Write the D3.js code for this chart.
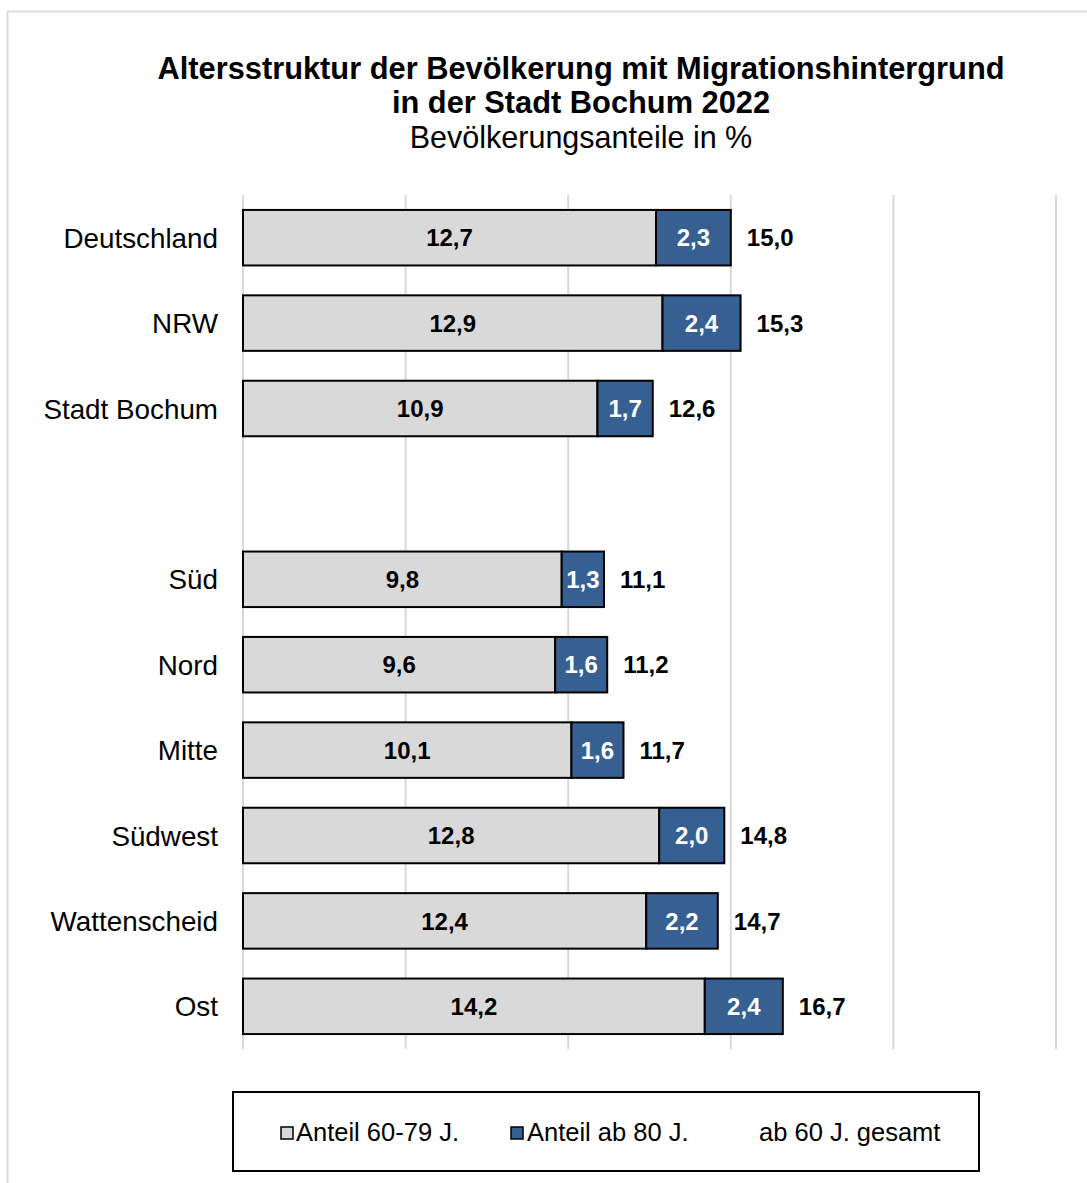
<!DOCTYPE html>
<html>
<head>
<meta charset="utf-8">
<script src="https://cdn.jsdelivr.net/npm/d3@7"></script>
<style>
  html, body { margin: 0; padding: 0; background: #fff; }
  svg { display: block; font-family: "Liberation Sans", Arial, sans-serif; }
</style>
</head>
<body>
<svg id="chart" width="1087" height="1183"></svg>
<script>
// ---- Data ----
const categories = ["Deutschland", "NRW", "Stadt Bochum", "", "Süd", "Nord", "Mitte", "Südwest", "Wattenscheid", "Ost"];
const anteil6079 = [12.7, 12.9, 10.9, null, 9.8, 9.6, 10.1, 12.8, 12.4, 14.2];
const anteilAb80 = [2.3, 2.4, 1.7, null, 1.3, 1.6, 1.6, 2.0, 2.2, 2.4];
const gesamt     = [15.0, 15.3, 12.6, null, 11.1, 11.2, 11.7, 14.8, 14.7, 16.7];
const xTicks = [0, 5, 10, 15, 20, 25];
const seriesNames = ["Anteil 60-79 J.", "Anteil ab 80 J.", "ab 60 J. gesamt"];
const titleLines = ["Altersstruktur der Bevölkerung mit Migrationshintergrund", "in der Stadt Bochum 2022"];
const subtitle = "Bevölkerungsanteile in %";

const fmt = v => v.toFixed(1).replace(".", ",");

const svg = d3.select("#chart");
const grey = "#d9d9d9", blue = "#376092";

// outer frame
svg.append("rect").attr("x", 7.5).attr("y", 11.5).attr("width", 1100).attr("height", 1200)
  .attr("fill", "none").attr("stroke", "#dcdcdc").attr("stroke-width", 2);

// titles
const cx = 581;
svg.append("text").attr("x", cx).attr("y", 79).attr("text-anchor", "middle")
  .attr("font-size", 30.8).attr("font-weight", "bold").text(titleLines[0]);
svg.append("text").attr("x", cx).attr("y", 113).attr("text-anchor", "middle")
  .attr("font-size", 30.8).attr("font-weight", "bold").text(titleLines[1]);
svg.append("text").attr("x", cx).attr("y", 148).attr("text-anchor", "middle")
  .attr("font-size", 30.5).text(subtitle);

// scales
const x = d3.scaleLinear().domain([0, 25]).range([243, 1056]);
const y = d3.scaleBand().domain(categories.map((c, i) => i)).range([195, 1049])
  .paddingInner(0.35).paddingOuter(0.175);

// gridlines
svg.append("g").selectAll("line").data(xTicks).join("line")
  .attr("x1", d => x(d)).attr("x2", d => x(d))
  .attr("y1", 195).attr("y2", 1049)
  .attr("stroke", "#d9d9d9").attr("stroke-width", 2);

// category axis labels
const yAxis = d3.axisLeft(y).tickSize(0).tickPadding(0).tickFormat(i => categories[i]);
const ga = svg.append("g").attr("transform", "translate(218,0)").call(yAxis);
ga.select(".domain").remove();
ga.selectAll("text").attr("font-size", 27.8).attr("font-family", "Liberation Sans, Arial, sans-serif")
  .attr("fill", "#000").attr("dy", "0.36em");

const rows = categories.map((c, i) => ({ i, a: anteil6079[i], b: anteilAb80[i], t: gesamt[i] }))
  .filter(d => d.a !== null);

const bars = svg.append("g");
// grey segment
bars.selectAll("rect.a").data(rows).join("rect").attr("class", "a")
  .attr("x", x(0)).attr("y", d => y(d.i))
  .attr("width", d => x(d.a) - x(0)).attr("height", y.bandwidth())
  .attr("fill", grey).attr("stroke", "#000").attr("stroke-width", 2);
// blue segment
bars.selectAll("rect.b").data(rows).join("rect").attr("class", "b")
  .attr("x", d => x(d.a)).attr("y", d => y(d.i))
  .attr("width", d => x(d.a + d.b) - x(d.a)).attr("height", y.bandwidth())
  .attr("fill", blue).attr("stroke", "#000").attr("stroke-width", 2);

const lab = svg.append("g").attr("font-weight", "bold").attr("font-size", 24);
lab.selectAll("text.a").data(rows).join("text").attr("class", "a")
  .attr("x", d => (x(0) + x(d.a)) / 2).attr("y", d => y(d.i) + y.bandwidth() / 2)
  .attr("dy", "0.36em").attr("text-anchor", "middle").attr("fill", "#000")
  .text(d => fmt(d.a));
lab.selectAll("text.b").data(rows).join("text").attr("class", "b")
  .attr("x", d => (x(d.a) + x(d.a + d.b)) / 2).attr("y", d => y(d.i) + y.bandwidth() / 2)
  .attr("dy", "0.36em").attr("text-anchor", "middle").attr("fill", "#fff")
  .text(d => fmt(d.b));
lab.selectAll("text.t").data(rows).join("text").attr("class", "t")
  .attr("x", d => x(d.a + d.b) + 16).attr("y", d => y(d.i) + y.bandwidth() / 2)
  .attr("dy", "0.36em").attr("text-anchor", "start").attr("fill", "#000")
  .text(d => fmt(d.t));

// legend
const lg = svg.append("g");
lg.append("rect").attr("x", 233).attr("y", 1092).attr("width", 746).attr("height", 79)
  .attr("fill", "#fff").attr("stroke", "#000").attr("stroke-width", 2);
const legendItems = [
  { name: seriesNames[0], fill: grey, sx: 281, tx: 296 },
  { name: seriesNames[1], fill: blue, sx: 511, tx: 527 },
  { name: seriesNames[2], fill: null, sx: null, tx: 759 }
];
legendItems.forEach(it => {
  if (it.fill) {
    lg.append("rect").attr("x", it.sx).attr("y", 1127).attr("width", 12).attr("height", 12)
      .attr("fill", it.fill).attr("stroke", "#000").attr("stroke-width", 1.5);
  }
  lg.append("text").attr("x", it.tx).attr("y", 1141).attr("font-size", 25.5).attr("fill", "#000")
    .text(it.name);
});
</script>
</body>
</html>
